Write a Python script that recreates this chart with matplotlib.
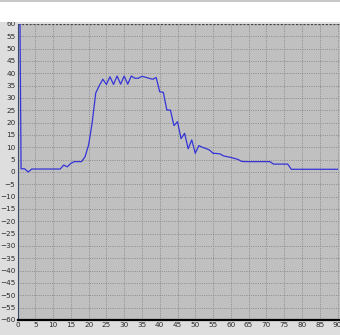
import matplotlib
matplotlib.use("Agg")
import matplotlib.pyplot as plt
from matplotlib.patches import Rectangle

x_values = list(range(0, 91))
y_values = [200, 1.3, 1.3, 0, 1.2, 1.2, 1.2, 1.2, 1.2, 1.2,
            1.2, 1.2, 1.2, 2.8, 2.1, 3.5, 4.2, 4.2, 4.2, 6.2,
            11, 20, 32, 35, 37.6, 35.5, 38.6, 35.5, 38.9, 35.6,
            38.9, 35.6, 38.9, 38, 38, 38.8, 38.4, 38, 37.6, 38.3,
            32.5, 32.3, 25.1, 25.1, 18.8, 20.4, 13.5, 15.7, 9.4, 13,
            7.6, 10.7, 10, 9.5, 8.9, 7.6, 7.5, 7.3, 6.5, 6.2,
            5.9, 5.5, 5.1, 4.3, 4.2, 4.2, 4.2, 4.2, 4.2, 4.2,
            4.2, 4.2, 3.2, 3.2, 3.2, 3.2, 3.2, 1.1, 1.1, 1.1,
            1.1, 1.1, 1.1, 1.1, 1.1, 1.1, 1.1, 1.1, 1.1, 1.1, 1.1]
x_ticks = list(range(0, 91, 5))
y_ticks = list(range(-60, 61, 5))

fig = plt.figure(figsize=(3.4, 3.35), dpi=100, facecolor="#DEDEDE")
# white top band
fig.patches.append(Rectangle((0, 0.935), 1, 0.065, transform=fig.transFigure,
                             facecolor="white", edgecolor="none", zorder=0))
fig.patches.append(Rectangle((0, 0.995), 1, 0.005, transform=fig.transFigure,
                             facecolor="#C8C8C8", edgecolor="none", zorder=0))

ax = fig.add_axes([0.0515, 0.0448, 0.9485, 0.8836])
ax.set_facecolor("#C0C0C0")
ax.plot(x_values, y_values, color="#3434D8", lw=0.9, zorder=3)
ax.set_xlim(0, 90.7)
ax.set_ylim(-60, 60)
ax.set_xticks(x_ticks)
ax.set_yticks(y_ticks)
ax.grid(True, color="#8C8C8C", linestyle=(0, (1, 1.3)), linewidth=0.7)
ax.tick_params(length=0, labelsize=5.2, colors="#2A2A2A", pad=1.5)
for s in ("top", "right"):
    ax.spines[s].set_visible(False)
ax.axhline(60, color="#404040", linestyle=(0, (1.5, 1.5)), lw=0.9, zorder=2)
ax.spines["bottom"].set_color("black")
ax.spines["bottom"].set_linewidth(1.6)
ax.spines["left"].set_color("#3A4A6A")
ax.spines["left"].set_linewidth(0.8)

fig.savefig("out.png", dpi=100, facecolor=fig.get_facecolor())
